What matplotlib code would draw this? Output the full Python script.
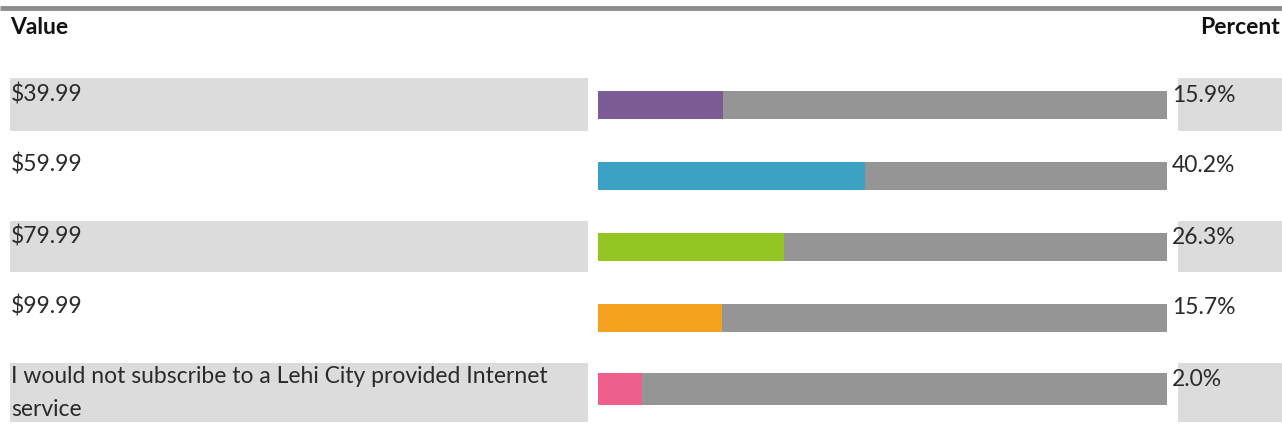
import numpy as np
import matplotlib.pyplot as plt

# ---- data ----
labels = [
    "$39.99",
    "$59.99",
    "$79.99",
    "$99.99",
    "I would not subscribe to a Lehi City provided Internet\nservice",
]
percent = [15.9, 40.2, 26.3, 15.7, 2.0]
colors = ["#7d5b97", "#3ba1c5", "#94c623", "#f5a31f", "#ef5f8b"]

W, H = 1282, 430
FONT = "Lato"
TXT = "#2a2a2a"
FS = 16.5

fig = plt.figure(figsize=(W / 100, H / 100), dpi=100)

# pixel helper -> figure fraction rect
def px_rect(x0, y0, x1, y1):
    return [x0 / W, 1 - y1 / H, (x1 - x0) / W, (y1 - y0) / H]

# background layer in pixel units
bg = fig.add_axes([0, 0, 1, 1])
bg.set_xlim(0, W)
bg.set_ylim(H, 0)
bg.axis("off")

# rule across the top
bg.plot([0, W], [8, 8], color="#8c8c8c", lw=3.5, solid_capstyle="butt")
bg.text(10, 27, "Value", fontsize=FS, fontweight="bold", family=FONT,
        color="#111111", va="center", ha="left")
bg.text(1280, 27, "Percent", fontsize=FS, fontweight="bold", family=FONT,
        color="#111111", va="center", ha="right")

# shaded rows (every other row)
band_extent = {0: (78, 131), 2: (221, 272), 4: (363, 422)}
for i, (top, bot) in band_extent.items():
    bg.fill_between([10, 588], top, bot, color="#dcdcdc", lw=0)
    bg.fill_between([1178, W], top, bot, color="#dcdcdc", lw=0)

# bar axes: one row every 71 px
row_top, row_h = 69.5, 71
ax = fig.add_axes(px_rect(598, row_top, 1167, row_top + row_h * len(labels)))
ax.set_facecolor("none")
x_lo, x_hi = -5.5, 92.0
ax.set_xlim(x_lo, x_hi)
ax.set_ylim(len(labels) - 0.5, -0.5)
ax.axis("off")

y = np.arange(len(labels))
heights = [0.39, 0.39, 0.39, 0.39, 0.46]
ax.barh(y, x_hi - x_lo, left=x_lo, height=heights, color="#959595", lw=0)
ax.barh(y, np.array(percent) - x_lo, left=x_lo, height=heights, color=colors, lw=0)

for i, (lab, p) in enumerate(zip(labels, percent)):
    yc = row_top + row_h * (i + 0.5)
    bg.text(1172, yc - 10, f"{p:.1f}%", fontsize=FS, family=FONT,
            color=TXT, va="center", ha="left")
    if "\n" in lab:
        bg.text(11, yc - 23, lab, fontsize=FS, family=FONT, color=TXT,
                va="top", ha="left", linespacing=1.68)
    else:
        bg.text(11, yc - 11, lab, fontsize=FS, family=FONT, color=TXT,
                va="center", ha="left")

fig.savefig("out.png", dpi=100)
